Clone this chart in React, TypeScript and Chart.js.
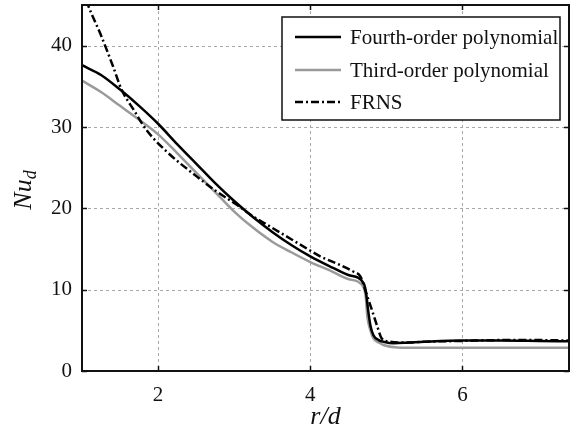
import React, { useEffect, useRef } from "react";
import { Chart, registerables } from "chart.js";

Chart.register(...registerables);

const fourthX = [1.0, 1.25, 1.5, 1.75, 2.0, 2.25, 2.5, 2.75, 3.0, 3.25, 3.5, 3.75, 4.0, 4.25, 4.5, 4.7, 4.73, 4.76, 4.79, 4.83, 4.9, 4.96, 5.1, 5.3, 5.5, 6.0, 6.5, 7.0, 7.4];
const fourthY = [37.6, 36.4, 34.6, 32.6, 30.4, 27.9, 25.5, 23.1, 20.9, 18.9, 17.1, 15.5, 14.1, 12.9, 11.8, 10.8, 9.8, 7.5, 5.6, 4.4, 3.8, 3.6, 3.4, 3.5, 3.6, 3.75, 3.75, 3.7, 3.65];

const thirdX = [1.0, 1.25, 1.5, 1.75, 2.0, 2.25, 2.5, 2.75, 3.0, 3.25, 3.5, 3.75, 4.0, 4.25, 4.5, 4.7, 4.73, 4.75, 4.79, 4.83, 4.9, 4.96, 5.14, 5.5, 6.0, 6.5, 7.0, 7.4];
const thirdY = [35.7, 34.3, 32.6, 30.9, 29.1, 26.8, 24.4, 22.0, 19.6, 17.6, 15.9, 14.6, 13.4, 12.4, 11.3, 10.3, 9.0, 6.7, 5.0, 4.0, 3.5, 3.2, 2.9, 2.85, 2.85, 2.85, 2.85, 2.85];

const frnsX = [1.0, 1.08, 1.24, 1.41, 1.52, 1.68, 1.85, 2.11, 2.51, 2.75, 3.04, 3.25, 3.5, 3.75, 4.0, 4.13, 4.4, 4.57, 4.66, 4.72, 4.81, 4.88, 4.94, 5.05, 5.3, 5.5, 6.0, 6.5, 7.0, 7.4];
const frnsY = [47.5, 45.0, 41.5, 37.4, 34.6, 32.1, 29.6, 27.0, 23.9, 22.2, 20.4, 19.0, 17.6, 16.2, 14.8, 14.1, 13.0, 12.2, 11.6, 10.0, 7.5, 5.5, 4.0, 3.6, 3.5, 3.6, 3.7, 3.8, 3.8, 3.75];

const seriesNames = ["Fourth-order polynomial", "Third-order polynomial", "FRNS"];
const xTicks = [2, 4, 6];
const yTicks = [0, 10, 20, 30, 40];

const SERIF = "'Liberation Serif', 'DejaVu Serif', serif";
const GRAY = "#9a9a9a";

const pts = (xs: number[], ys: number[]) => xs.map((x, i) => ({ x, y: ys[i] }));

const decorPlugin = {
  id: "decor",
  beforeDatasetsDraw(chart: any) {
    const { ctx, chartArea: a, scales } = chart;
    const xs = scales.x;
    const ys = scales.y;
    ctx.save();
    ctx.strokeStyle = "#a8a8a8";
    ctx.lineWidth = 1;
    ctx.setLineDash([3, 3]);
    xTicks.forEach((v) => {
      const px = Math.round(xs.getPixelForValue(v)) + 0.5;
      ctx.beginPath();
      ctx.moveTo(px, a.top);
      ctx.lineTo(px, a.bottom);
      ctx.stroke();
    });
    yTicks.forEach((v) => {
      if (v === 0) return;
      const py = Math.round(ys.getPixelForValue(v)) + 0.5;
      ctx.beginPath();
      ctx.moveTo(a.left, py);
      ctx.lineTo(a.right, py);
      ctx.stroke();
    });
    ctx.restore();
  },
  afterDraw(chart: any) {
    const { ctx, chartArea: a, scales } = chart;
    const xs = scales.x;
    const ys = scales.y;
    ctx.save();
    ctx.setLineDash([]);
    ctx.strokeStyle = "#111";
    ctx.lineWidth = 1.5;
    const tl = 5;
    xTicks.forEach((v) => {
      const px = Math.round(xs.getPixelForValue(v)) + 0.5;
      ctx.beginPath();
      ctx.moveTo(px, a.bottom);
      ctx.lineTo(px, a.bottom - tl);
      ctx.moveTo(px, a.top);
      ctx.lineTo(px, a.top + tl);
      ctx.stroke();
    });
    yTicks.forEach((v) => {
      const py = Math.round(ys.getPixelForValue(v)) + 0.5;
      ctx.beginPath();
      ctx.moveTo(a.left, py);
      ctx.lineTo(a.left + tl, py);
      ctx.moveTo(a.right, py);
      ctx.lineTo(a.right - tl, py);
      ctx.stroke();
    });
    // frame
    ctx.lineWidth = 2;
    ctx.strokeRect(a.left, a.top, a.right - a.left, a.bottom - a.top);

    // legend
    const lx = 282, ly = 17, lw = 278, lh = 103;
    ctx.fillStyle = "#fff";
    ctx.fillRect(lx, ly, lw, lh);
    ctx.lineWidth = 1.5;
    ctx.strokeStyle = "#111";
    ctx.strokeRect(lx, ly, lw, lh);
    const styles = [
      { color: "#000", dash: [] as number[] },
      { color: GRAY, dash: [] as number[] },
      { color: "#000", dash: [8, 3, 2, 3] },
    ];
    const rows = [37, 70, 102];
    ctx.font = `21px ${SERIF}`;
    ctx.textBaseline = "middle";
    ctx.textAlign = "left";
    seriesNames.forEach((name, i) => {
      const y = rows[i];
      ctx.strokeStyle = styles[i].color;
      ctx.lineWidth = 2.5;
      ctx.setLineDash(styles[i].dash);
      ctx.beginPath();
      ctx.moveTo(295, y);
      ctx.lineTo(341, y);
      ctx.stroke();
      ctx.setLineDash([]);
      ctx.fillStyle = "#111";
      ctx.fillText(name, 350, y + 1);
    });

    // axis titles
    ctx.fillStyle = "#111";
    ctx.font = `italic 26px ${SERIF}`;
    ctx.textBaseline = "alphabetic";
    ctx.textAlign = "center";
    ctx.fillText("r/d", (a.left + a.right) / 2, 424);

    ctx.save();
    ctx.translate(31, (a.top + a.bottom) / 2 + 2);
    ctx.rotate(-Math.PI / 2);
    ctx.font = `italic 26px ${SERIF}`;
    const w1 = ctx.measureText("Nu").width;
    ctx.font = `italic 18px ${SERIF}`;
    const w2 = ctx.measureText("d").width;
    const start = -(w1 + w2) / 2;
    ctx.textAlign = "left";
    ctx.font = `italic 26px ${SERIF}`;
    ctx.fillText("Nu", start, 0);
    ctx.font = `italic 18px ${SERIF}`;
    ctx.fillText("d", start + w1, 5);
    ctx.restore();

    ctx.restore();
  },
};

export default function App() {
  const ref = useRef<HTMLCanvasElement | null>(null);
  useEffect(() => {
    if (!ref.current) return;
    const chart = new Chart(ref.current, {
      type: "line",
      data: {
        datasets: [
          {
            label: seriesNames[0],
            data: pts(fourthX, fourthY),
            borderColor: "#000",
            borderWidth: 2.5,
            pointRadius: 0,
            cubicInterpolationMode: "monotone",
            order: 1,
          },
          {
            label: seriesNames[1],
            data: pts(thirdX, thirdY),
            borderColor: GRAY,
            borderWidth: 2.5,
            pointRadius: 0,
            cubicInterpolationMode: "monotone",
            order: 2,
          },
          {
            label: seriesNames[2],
            data: pts(frnsX, frnsY),
            borderColor: "#000",
            borderWidth: 2.5,
            borderDash: [8, 3, 2, 3],
            pointRadius: 0,
            cubicInterpolationMode: "monotone",
            order: 0,
          },
        ],
      },
      options: {
        animation: false,
        responsive: false,
        maintainAspectRatio: false,
        layout: { padding: { top: 5, right: 1, left: 0, bottom: 0 } },
        plugins: { legend: { display: false }, tooltip: { enabled: false } },
        scales: {
          x: {
            type: "linear",
            min: 1,
            max: 7.4,
            grid: { display: false, drawTicks: false },
            border: { display: false },
            afterBuildTicks: (s: any) => {
              s.ticks = xTicks.map((v) => ({ value: v }));
            },
            afterFit: (s: any) => {
              s.height = 61;
              s.paddingLeft = 0;
              s.paddingRight = 0;
            },
            ticks: {
              font: { family: SERIF, size: 21 },
              color: "#111",
              padding: 12,
              maxRotation: 0,
            },
          },
          y: {
            min: 0,
            max: 45,
            grid: { display: false, drawTicks: false },
            border: { display: false },
            afterBuildTicks: (s: any) => {
              s.ticks = yTicks.map((v) => ({ value: v }));
            },
            afterFit: (s: any) => {
              s.width = 82;
              s.paddingTop = 0;
              s.paddingBottom = 0;
            },
            ticks: {
              font: { family: SERIF, size: 21 },
              color: "#111",
              padding: 10,
            },
          },
        },
      },
      plugins: [decorPlugin],
    } as any);
    return () => chart.destroy();
  }, []);
  return (
    <div style={{ position: "absolute", left: 0, top: 0, width: 570, height: 432, background: "#fff" }}>
      <canvas ref={ref} width={570} height={432} style={{ display: "block" }} />
    </div>
  );
}
